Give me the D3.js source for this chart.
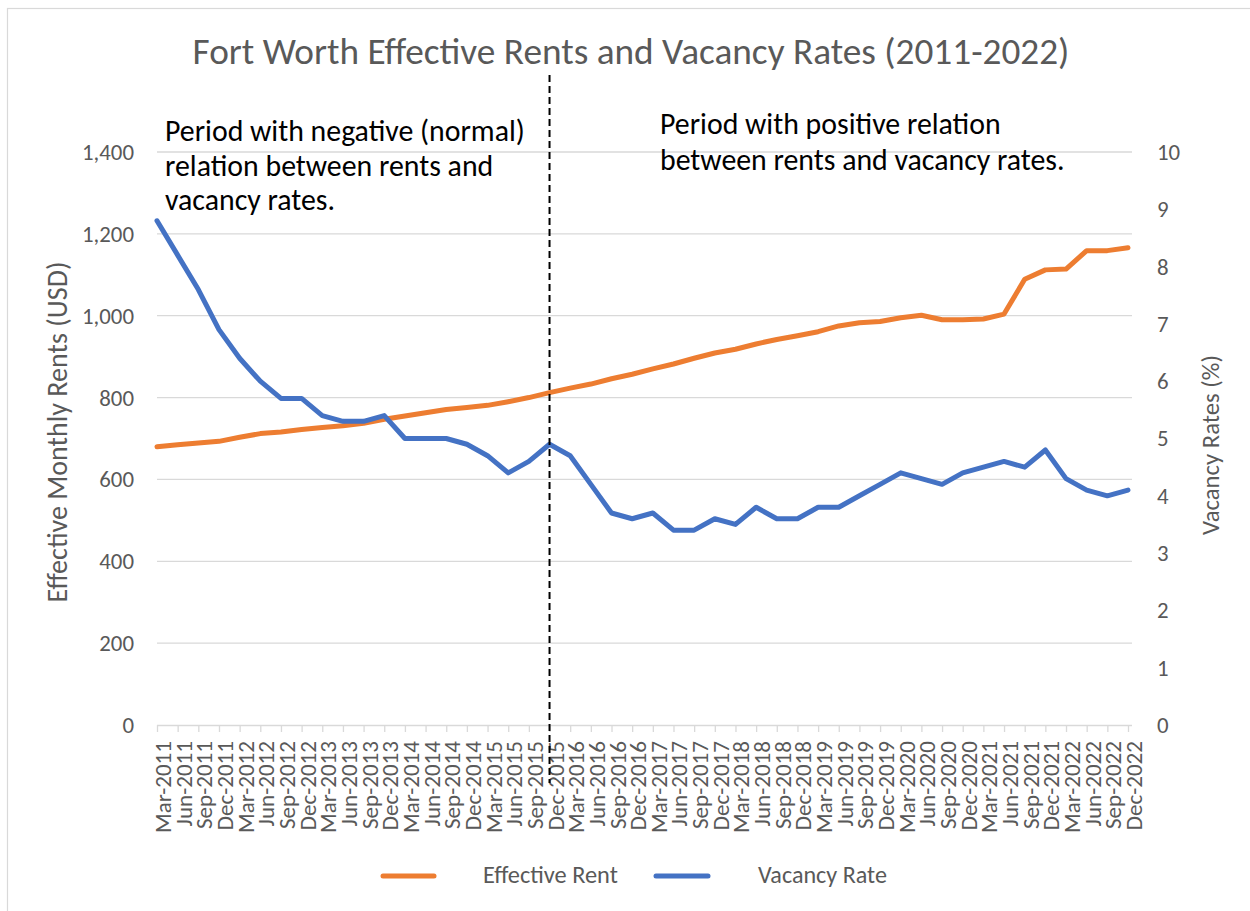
<!DOCTYPE html>
<html><head><meta charset="utf-8">
<script src="https://cdn.jsdelivr.net/npm/d3@7"></script>
<style>
html,body{margin:0;padding:0;background:#fff;}
svg text{font-family:Carlito, Lato, "Open Sans", sans-serif;}
</style></head>
<body><svg id="c" width="1250" height="911"></svg>
<script>
const categories = ["Mar-2011","Jun-2011","Sep-2011","Dec-2011","Mar-2012","Jun-2012","Sep-2012","Dec-2012",
"Mar-2013","Jun-2013","Sep-2013","Dec-2013","Mar-2014","Jun-2014","Sep-2014","Dec-2014",
"Mar-2015","Jun-2015","Sep-2015","Dec-2015","Mar-2016","Jun-2016","Sep-2016","Dec-2016",
"Mar-2017","Jun-2017","Sep-2017","Dec-2017","Mar-2018","Jun-2018","Sep-2018","Dec-2018",
"Mar-2019","Jun-2019","Sep-2019","Dec-2019","Mar-2020","Jun-2020","Sep-2020","Dec-2020",
"Mar-2021","Jun-2021","Sep-2021","Dec-2021","Mar-2022","Jun-2022","Sep-2022","Dec-2022"];
const effectiveRent = [680,685,689,693,703,712,716,722,727,731,737,747,755,763,771,776,
781,790,800,812,823,833,846,857,870,882,896,909,918,931,942,951,
961,975,983,986,995,1001,990,990,992,1004,1089,1112,1114,1159,1159,1166];
const vacancyRate = [8.8,8.2,7.6,6.9,6.4,6.0,5.7,5.7,5.4,5.3,5.3,5.4,5.0,5.0,5.0,4.9,
4.7,4.4,4.6,4.9,4.7,4.2,3.7,3.6,3.7,3.4,3.4,3.6,3.5,3.8,3.6,3.6,
3.8,3.8,4.0,4.2,4.4,4.3,4.2,4.4,4.5,4.6,4.5,4.8,4.3,4.1,4.0,4.1];
const rentTicks = [0,200,400,600,800,1000,1200,1400];
const vacancyTicks = [0,1,2,3,4,5,6,7,8,9,10];
const dividerCategory = "Dec-2015";
const titleText = "Fort Worth Effective Rents and Vacancy Rates (2011-2022)";
const noteLeft = ["Period with negative (normal)","relation between rents and","vacancy rates."];
const noteRight = ["Period with positive relation","between rents and vacancy rates."];

const ORANGE="#ED7D31", BLUE="#4472C4", GREY="#595959", GRID="#D9D9D9";
const svg = d3.select("#c");

function fit(t, w){
  t.style("font-size","20px");
  const L = t.node().getComputedTextLength();
  const fs = 20*w/L;
  t.style("font-size", fs+"px");
  return fs;
}

// outer border
svg.append("rect").attr("x",7.5).attr("y",8.5).attr("width",1300).attr("height",1000)
  .attr("fill","none").attr("stroke",GRID).attr("stroke-width",1.2);

const x = d3.scalePoint().domain(categories).range([157,1128]);
const yL = d3.scaleLinear().domain([0,1400]).range([725,152]);
const yR = d3.scaleLinear().domain([0,10]).range([725,152]);

// gridlines
svg.append("g").selectAll("line").data(rentTicks.filter(d=>d>0)).join("line")
  .attr("x1",157).attr("x2",1132).attr("y1",d=>yL(d)).attr("y2",d=>yL(d))
  .attr("stroke",GRID).attr("stroke-width",1.3);

// x axis
const xa = svg.append("g").attr("transform","translate(0,725)")
  .call(d3.axisBottom(x).tickSize(7).tickFormat(""));
xa.select(".domain").attr("stroke",GRID).attr("stroke-width",1.3).attr("d","M157,0.5H1132");
xa.selectAll(".tick line").attr("stroke",GRID).attr("stroke-width",1.3);

// x labels
const probe = svg.append("text").text("Mar-2011");
const xfs = fit(probe, 92); probe.remove();
svg.append("g").selectAll("text").data(categories).join("text")
  .attr("transform",d=>`translate(${x(d)+14},741) rotate(-90)`)
  .attr("text-anchor","end").attr("fill",GREY).style("font-size",xfs+"px").text(d=>d);

// left axis labels
const probe2 = svg.append("text").text("1,400");
const yfs = fit(probe2, 52); probe2.remove();
const fmt = d3.format(",");
svg.append("g").selectAll("text").data(rentTicks).join("text")
  .attr("x",134).attr("y",d=>yL(d)).attr("dy","0.35em").attr("text-anchor","end")
  .attr("fill",GREY).style("font-size",yfs+"px").text(d=>fmt(d));
svg.append("g").selectAll("text").data(vacancyTicks).join("text")
  .attr("x",1157).attr("y",d=>yR(d)).attr("dy","0.35em").attr("text-anchor","start")
  .attr("fill",GREY).style("font-size",yfs+"px").text(d=>d);

// axis titles
const lt = svg.append("text").attr("transform","translate(67,432) rotate(-90)")
  .attr("text-anchor","middle").attr("fill",GREY).text("Effective Monthly Rents (USD)");
fit(lt, 341);
const rt = svg.append("text").attr("transform","translate(1219,445) rotate(-90)")
  .attr("text-anchor","middle").attr("fill",GREY).text("Vacancy Rates (%)");
fit(rt, 180);

// title
const tt = svg.append("text").attr("x",631).attr("y",64).attr("text-anchor","middle")
  .attr("fill",GREY).text(titleText);
fit(tt, 877);

// lines
const lineR = d3.line().x((d,i)=>x(categories[i])).y(d=>yL(d));
const lineV = d3.line().x((d,i)=>x(categories[i])).y(d=>yR(d));
svg.append("path").datum(effectiveRent).attr("d",lineR).attr("fill","none")
  .attr("stroke",ORANGE).attr("stroke-width",5).attr("stroke-linejoin","round").attr("stroke-linecap","round");
svg.append("path").datum(vacancyRate).attr("d",lineV).attr("fill","none")
  .attr("stroke",BLUE).attr("stroke-width",5).attr("stroke-linejoin","round").attr("stroke-linecap","round");

// divider
svg.append("line").attr("x1",x(dividerCategory)).attr("x2",x(dividerCategory))
  .attr("y1",75).attr("y2",783).attr("stroke","#000").attr("stroke-width",2)
  .attr("stroke-dasharray","7,4");

// annotations
const n1 = svg.append("text").attr("x",165).attr("y",141).attr("fill","#000").text(noteLeft[0]);
const nfs = fit(n1, 360);
noteLeft.slice(1).forEach((s,i)=>svg.append("text").attr("x",165).attr("y",141+34.5*(i+1))
  .attr("fill","#000").style("font-size",nfs+"px").text(s));
noteRight.forEach((s,i)=>svg.append("text").attr("x",660).attr("y",134+35.5*i)
  .attr("fill","#000").style("font-size",nfs+"px").text(s));

// legend
const leg = [{name:"Effective Rent",color:ORANGE,x1:383,x2:434,tx:483,w:135},
             {name:"Vacancy Rate",color:BLUE,x1:656,x2:708,tx:758,w:129}];
leg.forEach(l=>{
  svg.append("line").attr("x1",l.x1).attr("x2",l.x2).attr("y1",876).attr("y2",876)
    .attr("stroke",l.color).attr("stroke-width",5).attr("stroke-linecap","round");
  const t = svg.append("text").attr("x",l.tx).attr("y",883).attr("fill",GREY).text(l.name);
  fit(t, l.w);
});
</script></body></html>
